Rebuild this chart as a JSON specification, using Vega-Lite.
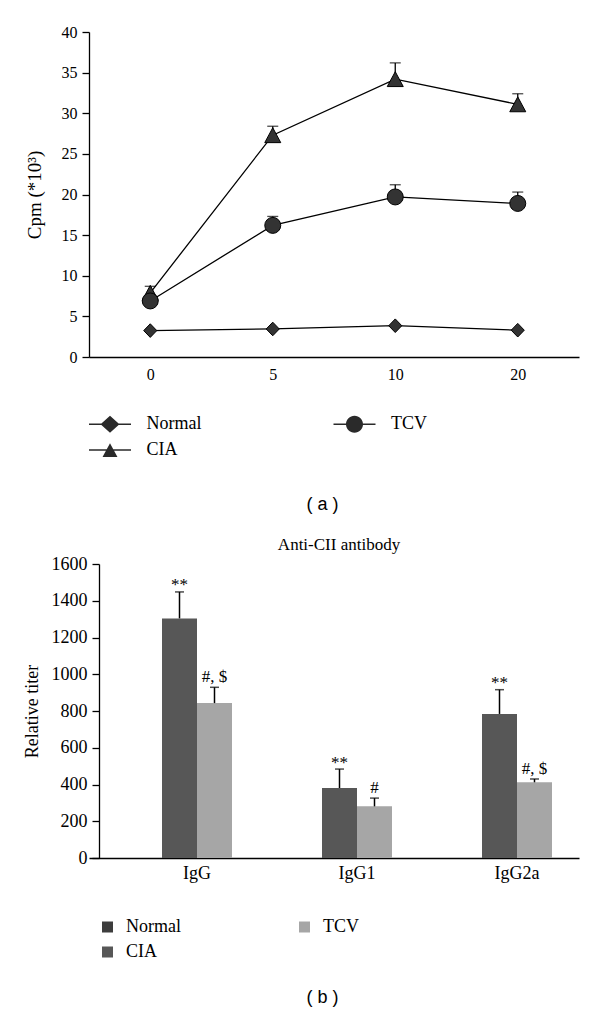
{
  "$schema": "https://vega.github.io/schema/vega-lite/v6.json",
  "padding": {"left": 23, "top": 24, "right": 5, "bottom": 5},
  "spacing": 23,
  "config": {
    "view": {"stroke": null},
    "axis": {"grid": false, "labelFont": "Liberation Serif", "titleFont": "Liberation Serif", "labelColor": "black", "titleColor": "black", "domainColor": "black", "tickColor": "black", "titleFontWeight": "normal", "domainWidth": 1.3, "tickWidth": 1.3},
    "legend": {"labelFont": "Liberation Serif", "labelColor": "black"}
  },
  "resolve": {"scale": {"shape": "independent", "color": "independent"}, "legend": {"shape": "independent", "color": "independent"}},
  "vconcat": [
    {
      "width": 490,
      "height": 325,
      "data": {"values": [
        {"time": "0", "group": "Normal", "value": 3.25, "upper": null},
        {"time": "5", "group": "Normal", "value": 3.45, "upper": null},
        {"time": "10", "group": "Normal", "value": 3.85, "upper": null},
        {"time": "20", "group": "Normal", "value": 3.3, "upper": null},
        {"time": "0", "group": "CIA", "value": 7.9, "upper": 8.7},
        {"time": "5", "group": "CIA", "value": 27.3, "upper": 28.4},
        {"time": "10", "group": "CIA", "value": 34.2, "upper": 36.2},
        {"time": "20", "group": "CIA", "value": 31.1, "upper": 32.4},
        {"time": "0", "group": "TCV", "value": 6.9, "upper": null},
        {"time": "5", "group": "TCV", "value": 16.2, "upper": 17.3},
        {"time": "10", "group": "TCV", "value": 19.7, "upper": 21.2},
        {"time": "20", "group": "TCV", "value": 18.9, "upper": 20.3}
      ]},
      "encoding": {
        "x": {"field": "time", "type": "ordinal", "sort": ["0", "5", "10", "20"],
          "scale": {"type": "point", "padding": 0.5},
          "axis": {"labelAngle": 0, "ticks": false, "labelFont": "Liberation Serif", "labelFontSize": 16, "labelPadding": 9,
            "title": "( a )", "titleFont": "Liberation Sans", "titleFontSize": 18, "titlePadding": 113, "titleX": 233}}
      },
      "layer": [
        {
          "mark": {"type": "line", "color": "black", "strokeWidth": 1.3},
          "encoding": {
            "y": {"field": "value", "type": "quantitative", "scale": {"domain": [0, 40], "nice": false},
              "axis": {"values": [0, 5, 10, 15, 20, 25, 30, 35, 40], "tickSize": 7, "labelFont": "Liberation Serif", "labelFontSize": 16, "labelPadding": 5,
                "title": "Cpm (*10³)", "titleFont": "Liberation Serif", "titleFontSize": 19, "titlePadding": 17}},
            "detail": {"field": "group"}
          }
        },
        {
          "transform": [{"filter": "isValid(datum.upper)"}],
          "mark": {"type": "rule", "color": "black", "strokeWidth": 1.3},
          "encoding": {
            "y": {"field": "value", "type": "quantitative"},
            "y2": {"field": "upper"}
          }
        },
        {
          "transform": [{"filter": "isValid(datum.upper)"}],
          "mark": {"type": "tick", "color": "black", "thickness": 1.3, "size": 11},
          "encoding": {
            "y": {"field": "upper", "type": "quantitative"}
          }
        },
        {
          "mark": {"type": "point", "filled": true, "color": "#333333", "stroke": "black", "strokeWidth": 1, "size": 256, "opacity": 1},
          "encoding": {
            "y": {"field": "value", "type": "quantitative"},
            "shape": {"field": "group", "type": "nominal",
              "scale": {"domain": ["Normal", "CIA", "TCV"],
                "range": ["M-0.82,0L0,-0.85L0.82,0L0,0.85Z", "M0,-0.93L1,0.93L-1,0.93Z", "circle"]},
              "legend": null}
          }
        },
        {
          "mark": {"type": "point", "filled": true, "color": "#2a2a2a", "stroke": "black", "strokeWidth": 1.3, "size": 441, "opacity": 0},
          "encoding": {
            "y": {"field": "value", "type": "quantitative"},
            "shape": {"field": "group", "type": "nominal",
              "scale": {"domain": ["Normal", "TCV", "CIA"],
                "range": [
                  "M-2,-0.065H2V0.065H-2ZM-0.9,0L0,-0.8L0.9,0L0,0.8Z",
                  "M-2,-0.065H2V0.065H-2ZM-0.81,0A0.81,0.81 0 1,1 0.81,0A0.81,0.81 0 1,1 -0.81,0Z",
                  "M-2,-0.065H2V0.065H-2ZM0,-0.64L0.71,0.67L-0.71,0.67Z"
                ]},
              "legend": {"orient": "none", "legendX": 9.5, "legendY": 380.5, "columns": 2, "direction": "horizontal",
                "title": null, "labelFont": "Liberation Serif", "labelFontSize": 18, "labelColor": "black",
                "symbolSize": 441, "symbolStrokeWidth": 1.3,
                "symbolFillColor": "#2a2a2a", "symbolStrokeColor": "black", "symbolOpacity": 1,
                "labelOffset": 25, "columnPadding": 128.5, "rowPadding": 3,
                "encode": {"symbols": {"fill": {"value": "#2a2a2a"}, "opacity": {"value": 1}, "fillOpacity": {"value": 1}}}}}
          }
        }
      ],
      "resolve": {"scale": {"shape": "independent"}, "legend": {"shape": "independent"}}
    },
    {
      "width": 490,
      "height": 294,
      "title": {"text": "Anti-CII antibody", "font": "Liberation Serif", "fontSize": 17, "fontWeight": "normal", "color": "black", "offset": 1, "dx": 5},
      "data": {"values": [
        {"ig": "IgG", "group": "CIA", "value": 1304, "upper": 1448, "label": "**"},
        {"ig": "IgG", "group": "TCV", "value": 843, "upper": 929, "label": "#, $"},
        {"ig": "IgG1", "group": "CIA", "value": 381, "upper": 484, "label": "**"},
        {"ig": "IgG1", "group": "TCV", "value": 281, "upper": 326, "label": "#"},
        {"ig": "IgG2a", "group": "CIA", "value": 784, "upper": 916, "label": "**"},
        {"ig": "IgG2a", "group": "TCV", "value": 412, "upper": 430, "label": "#, $"}
      ]},
      "encoding": {
        "x": {"field": "ig", "type": "nominal", "sort": ["IgG", "IgG1", "IgG2a"],
          "scale": {"paddingInner": 0.5625, "paddingOuter": 0.3125, "align": 0.73},
          "axis": {"labelAngle": 0, "ticks": false, "labelFont": "Liberation Serif", "labelFontSize": 18, "labelPadding": 6,
            "title": "( b )", "titleFont": "Liberation Sans", "titleFontSize": 18, "titlePadding": 106, "titleX": 233}},
        "xOffset": {"field": "group", "type": "nominal", "scale": {"domain": ["CIA", "TCV"]}}
      },
      "layer": [
        {
          "mark": {"type": "bar"},
          "encoding": {
            "y": {"field": "value", "type": "quantitative", "scale": {"domain": [0, 1600], "nice": false},
              "axis": {"values": [0, 200, 400, 600, 800, 1000, 1200, 1400, 1600], "format": "d", "labelOverlap": false, "offset": -10,
                "tickSize": 7, "labelFont": "Liberation Serif", "labelFontSize": 18, "labelPadding": 5,
                "title": "Relative titer", "titleFont": "Liberation Serif", "titleFontSize": 18, "titlePadding": 10}},
            "color": {"field": "group", "type": "nominal",
              "scale": {"domain": ["Normal", "TCV", "CIA"], "range": ["#3d3d3d", "#a6a6a6", "#575757"]},
              "legend": {"orient": "none", "legendX": 9.5, "legendY": 354, "columns": 2, "direction": "horizontal",
                "title": null, "labelFont": "Liberation Serif", "labelFontSize": 18, "labelColor": "black",
                "symbolType": "square", "symbolSize": 121, "symbolStrokeWidth": 0,
                "labelOffset": 9.5, "columnPadding": 114, "rowPadding": 7}}
          }
        },
        {
          "mark": {"type": "rule", "color": "black", "strokeWidth": 1.5},
          "encoding": {
            "y": {"field": "value", "type": "quantitative",
              "axis": {"values": [0, 200, 400, 600, 800, 1000, 1200, 1400, 1600], "format": "d", "labelOverlap": false, "offset": -10,
                "tickSize": 7, "labelFont": "Liberation Serif", "labelFontSize": 18, "labelPadding": 5,
                "title": "Relative titer", "titleFont": "Liberation Serif", "titleFontSize": 18, "titlePadding": 10}},
            "y2": {"field": "upper"}
          }
        },
        {
          "mark": {"type": "tick", "color": "black", "thickness": 1.5, "size": 9},
          "encoding": {
            "y": {"field": "upper", "type": "quantitative",
              "axis": {"values": [0, 200, 400, 600, 800, 1000, 1200, 1400, 1600], "format": "d", "labelOverlap": false, "offset": -10,
                "tickSize": 7, "labelFont": "Liberation Serif", "labelFontSize": 18, "labelPadding": 5,
                "title": "Relative titer", "titleFont": "Liberation Serif", "titleFontSize": 18, "titlePadding": 10}}
          }
        },
        {
          "transform": [{"filter": "datum.label == '**'"}],
          "mark": {"type": "text", "font": "Liberation Serif", "fontSize": 17, "color": "black", "baseline": "alphabetic", "dy": -1.5},
          "encoding": {
            "y": {"field": "upper", "type": "quantitative",
              "axis": {"values": [0, 200, 400, 600, 800, 1000, 1200, 1400, 1600], "format": "d", "labelOverlap": false, "offset": -10,
                "tickSize": 7, "labelFont": "Liberation Serif", "labelFontSize": 18, "labelPadding": 5,
                "title": "Relative titer", "titleFont": "Liberation Serif", "titleFontSize": 18, "titlePadding": 10}},
            "text": {"field": "label"}
          }
        },
        {
          "transform": [{"filter": "datum.label != '**'"}],
          "mark": {"type": "text", "font": "Liberation Serif", "fontSize": 17, "color": "black", "baseline": "alphabetic", "dy": -5},
          "encoding": {
            "y": {"field": "upper", "type": "quantitative",
              "axis": {"values": [0, 200, 400, 600, 800, 1000, 1200, 1400, 1600], "format": "d", "labelOverlap": false, "offset": -10,
                "tickSize": 7, "labelFont": "Liberation Serif", "labelFontSize": 18, "labelPadding": 5,
                "title": "Relative titer", "titleFont": "Liberation Serif", "titleFontSize": 18, "titlePadding": 10}},
            "text": {"field": "label"}
          }
        }
      ]
    }
  ]
}
